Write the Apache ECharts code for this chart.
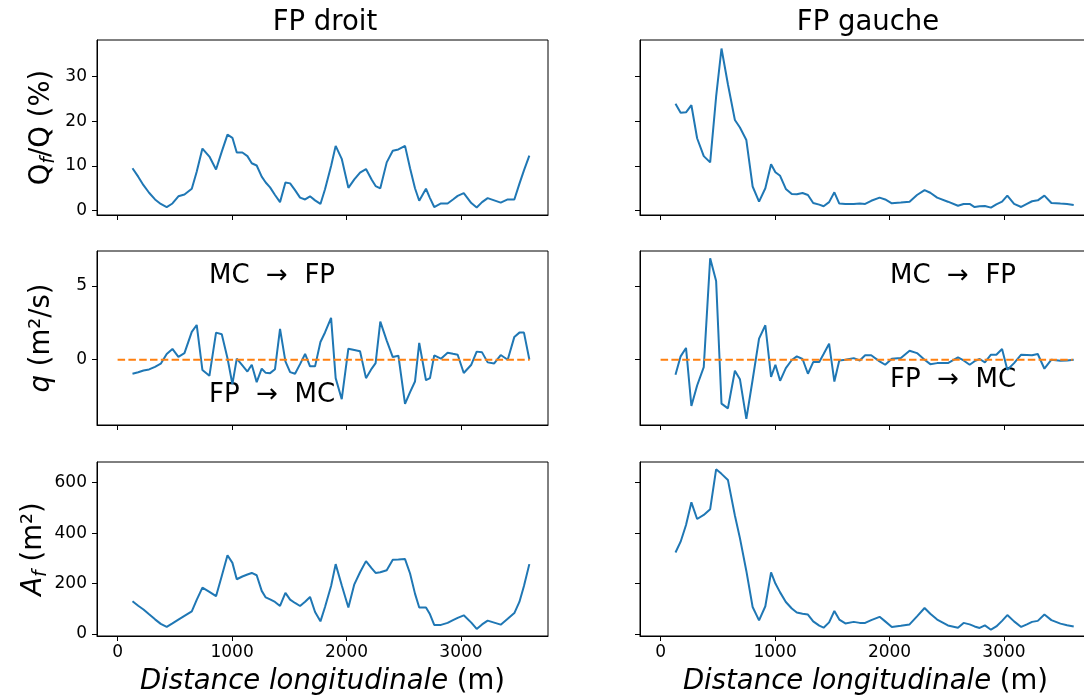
<!DOCTYPE html>
<html>
<head>
<meta charset="utf-8">
<script src="https://cdn.jsdelivr.net/npm/echarts@6.0.0/dist/echarts.min.js"></script>
<style>
  html, body { margin: 0; padding: 0; background: #fff; }
  #main { width: 1084px; height: 699px; }
</style>
</head>
<body>
<div id="main"></div>
<script>
// distances (m) des stations, rive droite / rive gauche
var distDroit = [130, 180, 226, 275, 327, 377, 429, 479, 531, 584, 648, 691, 741, 802, 860, 910, 960, 1003, 1041, 1090,
  1134, 1172, 1215, 1259, 1294, 1332, 1375, 1419, 1466, 1507, 1550, 1594, 1638, 1681, 1725, 1772, 1812, 1865, 1905, 1958,
  2016, 2068, 2118, 2170, 2220, 2254, 2295, 2351, 2404, 2453, 2511, 2555, 2598, 2635, 2694, 2729, 2766, 2825, 2883, 2930,
  2971, 3024, 3090, 3137, 3184, 3233, 3290, 3347, 3408, 3466, 3510, 3550, 3597];
var qfDroit = [9.5, 7.6, 5.7, 4.0, 2.5, 1.5, 0.8, 1.6, 3.2, 3.6, 4.9, 8.7, 13.9, 12.1, 9.2, 13.2, 17.0, 16.3, 13.0, 13.0,
  12.2, 10.6, 10.1, 7.6, 6.3, 5.2, 3.5, 1.9, 6.3, 6.1, 4.6, 2.9, 2.5, 3.2, 2.3, 1.5, 4.8, 10.0, 14.5, 11.6,
  5.1, 7.0, 8.5, 9.3, 6.9, 5.5, 5.0, 10.8, 13.4, 13.7, 14.5, 9.5, 5.0, 2.2, 4.9, 2.8, 0.8, 1.6, 1.6, 2.5,
  3.3, 3.9, 1.7, 0.7, 1.9, 2.8, 2.3, 1.8, 2.5, 2.5, 6.0, 9.0, 12.3];
var qDroit = [-0.95, -0.85, -0.73, -0.66, -0.48, -0.27, 0.39, 0.73, 0.2, 0.45, 1.89, 2.36, -0.7, -1.09, 1.84, 1.73, 0.1, -1.66, 0.07, -0.39,
  -0.8, -0.34, -1.52, -0.61, -0.89, -0.91, -0.64, 2.09, -0.11, -0.84, -0.95, -0.3, 0.39, -0.45, -0.45, 1.2, 1.85, 2.84, -1.25, -2.68,
  0.75, 0.66, 0.57, -1.25, -0.6, -0.23, 2.59, 1.3, 0.18, 0.27, -3.0, -2.2, -1.48, 1.14, -1.39, -1.25, 0.3, 0.07, 0.48, 0.4,
  0.34, -0.9, -0.34, 0.55, 0.5, -0.18, -0.25, 0.32, 0.0, 1.55, 1.84, 1.84, 0.02];
var afDroit = [130, 112, 97, 78, 58, 40, 28, 42, 57, 72, 90, 135, 184, 167, 150, 230, 312, 282, 217, 228,
  236, 242, 233, 171, 145, 137, 127, 111, 163, 136, 123, 111, 128, 147, 87, 50, 107, 190, 277, 193,
  105, 197, 245, 289, 260, 242, 245, 253, 294, 295, 297, 240, 160, 105, 105, 78, 36, 36, 44, 55,
  64, 74, 45, 20, 38, 53, 45, 37, 60, 83, 127, 190, 277];

var distGauche = [130, 175, 222, 269, 319, 377, 433, 485, 532, 588, 649, 693, 749, 804, 860, 915, 965, 1003, 1044, 1094,
  1146, 1190, 1240, 1287, 1333, 1386, 1424, 1472, 1518, 1561, 1614, 1687, 1740, 1787, 1840, 1913, 1962, 2020, 2099, 2175,
  2240, 2306, 2356, 2416, 2510, 2598, 2647, 2700, 2743, 2787, 2833, 2886, 2933, 2983, 3029, 3088, 3150, 3200, 3245, 3295,
  3353, 3414, 3493, 3551, 3609];
var qfGauche = [23.9, 21.9, 22.0, 23.6, 16.2, 12.2, 10.8, 25.5, 36.3, 28.3, 20.3, 18.6, 15.8, 5.4, 2.0, 5.0, 10.4, 8.6, 7.8, 4.85,
  3.7, 3.65, 3.95, 3.5, 1.7, 1.34, 0.97, 1.9, 4.1, 1.57, 1.49, 1.49, 1.6, 1.5, 2.2, 2.9, 2.5, 1.64, 1.8, 2.0,
  3.5, 4.6, 4.0, 2.9, 2.0, 1.1, 1.5, 1.5, 0.8, 0.97, 1.04, 0.67, 1.4, 2.0, 3.36, 1.5, 0.82, 1.5, 2.1, 2.3,
  3.36, 1.7, 1.57, 1.49, 1.27];
var qGauche = [-1.02, 0.23, 0.8, -3.14, -1.75, -0.5, 6.89, 5.34, -2.98, -3.3, -0.75, -1.32, -4.02, -1.36, 1.43, 2.34, -1.16, -0.34, -1.43, -0.57,
  -0.02, 0.23, 0.05, -0.95, -0.16, -0.16, 0.39, 1.09, -1.48, -0.05, 0.0, 0.11, -0.05, 0.3, 0.3, -0.11, -0.34, 0.07, 0.11, 0.61,
  0.45, 0.0, -0.3, -0.23, -0.23, 0.16, -0.05, -0.34, -0.1, 0.05, -0.18, 0.34, 0.34, 0.73, -0.68, -0.23, 0.34, 0.32, 0.3, 0.39,
  -0.61, 0.0, -0.07, -0.05, 0.0];
var afGauche = [323, 366, 432, 522, 456, 472, 495, 653, 635, 611, 470, 380, 250, 107, 54, 110, 244, 200, 165, 127,
  101, 85, 80, 77, 50, 33, 25, 46, 91, 57, 42, 48, 44, 44, 55, 68, 50, 28, 33, 38,
  70, 103, 80, 57, 34, 25, 44, 38, 30, 24, 34, 17, 30, 52, 75, 50, 28, 38, 48, 52,
  77, 55, 41, 35, 30];

// ligne q = 0
var zeroLine = [[0, 0], [3600, 0]];

// graduations
var xTicks = [0, 1000, 2000, 3000];
var yTicksQf = [0, 10, 20, 30];
var yTicksQ = [0, 5];
var yTicksAf = [0, 200, 400, 600];

var FONT = 'DejaVu Sans';
var BLUE = '#1f77b4';
var ORANGE = '#ff7f0e';
var LABEL_SIZE = 27.5;

var gridRects = [
  { left: 97, top: 40, width: 451, height: 175 },
  { left: 640, top: 40, width: 451, height: 175 },
  { left: 97, top: 251, width: 451, height: 174 },
  { left: 640, top: 251, width: 451, height: 174 },
  { left: 97, top: 462, width: 451, height: 174 },
  { left: 640, top: 462, width: 451, height: 174 }
];
var yRanges = [[-0.98, 38.2], [-4.43, 7.38], [-8, 682]];
var yTickSets = [yTicksQf, yTicksQ, yTicksAf];
var yNames = [
  '{n|Q}{s|f}{n|/Q (%)}',
  '{i|q}{n| (m²/s)}',
  '{i|A}{s|f}{n| (m²)}'
];

var richName = {
  n: { fontSize: LABEL_SIZE, fontFamily: FONT, color: '#000', lineHeight: 34 },
  i: { fontSize: LABEL_SIZE, fontFamily: FONT, color: '#000', fontStyle: 'italic', lineHeight: 34 },
  s: { fontSize: 19, fontFamily: FONT, color: '#000', fontStyle: 'italic', verticalAlign: 'bottom', lineHeight: 19 }
};

function pairs(xs, ys) {
  return xs.map(function (d, i) { return [d, ys[i]]; });
}
function plain(v) { return String(v); }

var grids = [], xAxes = [], yAxes = [], series = [];
for (var i = 0; i < 6; i++) {
  var row = Math.floor(i / 2), col = i % 2;
  var r = gridRects[i];
  grids.push({
    left: r.left, top: r.top, width: r.width, height: r.height,
    show: true, borderColor: '#000', borderWidth: 1,
    containLabel: false, outerBoundsMode: 'none'
  });
  xAxes.push({
    type: 'value', gridIndex: i, min: -180, max: 3760,
    axisLine: { show: true, onZero: false, lineStyle: { color: '#000', width: 1 } },
    axisTick: { show: true, customValues: xTicks, length: 5, lineStyle: { color: '#000' } },
    axisLabel: {
      show: row === 2, customValues: xTicks, formatter: plain,
      fontSize: 17, fontFamily: FONT, color: '#000', margin: 8
    },
    splitLine: { show: false },
    name: row === 2 ? '{i|Distance longitudinale}{n| (m)}' : '',
    nameLocation: 'middle', nameGap: 29,
    nameTextStyle: { rich: richName }
  });
  yAxes.push({
    type: 'value', gridIndex: i, min: yRanges[row][0], max: yRanges[row][1],
    axisLine: { show: true, onZero: false, lineStyle: { color: '#000', width: 1 } },
    axisTick: { show: true, customValues: yTickSets[row], length: 5, lineStyle: { color: '#000' } },
    axisLabel: {
      show: col === 0, customValues: yTickSets[row], formatter: plain,
      fontSize: 17, fontFamily: FONT, color: '#000', margin: 10
    },
    splitLine: { show: false },
    name: col === 0 ? yNames[row] : '',
    nameLocation: 'middle', nameGap: 38, nameRotate: 90,
    nameTextStyle: { rich: richName }
  });
}

var panelData = [
  pairs(distDroit, qfDroit), pairs(distGauche, qfGauche),
  pairs(distDroit, qDroit), pairs(distGauche, qGauche),
  pairs(distDroit, afDroit), pairs(distGauche, afGauche)
];
panelData.forEach(function (d, i) {
  series.push({
    type: 'line', xAxisIndex: i, yAxisIndex: i, data: d,
    showSymbol: false, symbol: 'none',
    lineStyle: { color: BLUE, width: 2 }
  });
});
[2, 3].forEach(function (i) {
  series.push({
    type: 'line', xAxisIndex: i, yAxisIndex: i, data: zeroLine,
    showSymbol: false, symbol: 'none',
    lineStyle: { color: ORANGE, width: 2, type: [7.5, 3.3] }
  });
});

function label(text, x, y, size) {
  return {
    type: 'text', x: x, y: y,
    style: {
      text: text, fontSize: size, fontFamily: FONT, fill: '#000',
      align: 'center', verticalAlign: 'middle', textAlign: 'center', textVerticalAlign: 'middle'
    }
  };
}

var myChart = echarts.init(document.getElementById('main'), null, { renderer: 'canvas' });
var option = {
  animation: false,
  backgroundColor: '#fff',
  grid: grids,
  xAxis: xAxes,
  yAxis: yAxes,
  series: series,
  graphic: [
    label('FP droit', 325, 23, LABEL_SIZE),
    label('FP gauche', 868, 23, LABEL_SIZE),
    label('MC  \u2192  FP', 272, 276, 26),
    label('FP  \u2192  MC', 272, 395, 26),
    label('MC  \u2192  FP', 953, 276, 26),
    label('FP  \u2192  MC', 953, 380, 26)
  ]
};
myChart.setOption(option);
</script>
</body>
</html>
